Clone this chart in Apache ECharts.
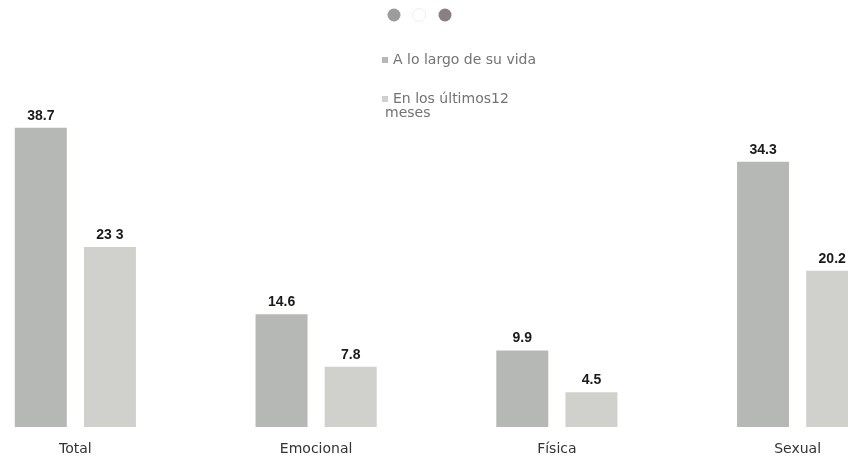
<!DOCTYPE html>
<html><head><meta charset="utf-8">
<script src="https://cdn.jsdelivr.net/npm/echarts@6/dist/echarts.min.js"></script>
<style>html,body{margin:0;padding:0;background:#fff;overflow:hidden;width:848px;height:460px}#c{position:absolute;left:-45px;top:0;width:963px;height:460px}</style>
</head><body><div id="c"></div>
<script>
var categories = ['Total', 'Emocional', 'Física', 'Sexual'];
var vidaValues = [38.7, 14.6, 9.9, 34.3];
var mesesValues = [23.3, 7.8, 4.5, 20.2];
var seriesNames = ['A lo largo de su vida', 'En los últimos12 meses'];
var labelTexts = ['38.7', '14.6', '9.9', '34.3'];
var labelTexts2 = ['23 3', '7.8', '4.5', '20.2'];

var OFF = 45;
var chart = echarts.init(document.getElementById('c'), null, {renderer: 'canvas'});
var labelStyle = {show: true, position: 'top', distance: 5, color: '#1a1a1a', fontWeight: 'bold', fontSize: 14, fontFamily: 'Liberation Sans, Arial, sans-serif'};
chart.setOption({
  backgroundColor: '#fff',
  animation: false,
  legend: {
    orient: 'vertical', left: 377 + OFF, top: 46, itemGap: 21,
    icon: 'rect', itemWidth: 6, itemHeight: 6,
    textStyle: {color: '#737373', fontSize: 14, fontFamily: 'DejaVu Sans, sans-serif', lineHeight: 18},
    formatter: function (n) { return n === seriesNames[1] ? 'En los últimos12' : n; },
    data: seriesNames
  },
  graphic: [
    {type: 'circle', shape: {cx: 394 + OFF, cy: 15, r: 6.5}, style: {fill: '#9c9c9c'}},
    {type: 'circle', shape: {cx: 419 + OFF, cy: 15, r: 6.5}, style: {fill: '#fff', stroke: '#efefef', lineWidth: 1}},
    {type: 'circle', shape: {cx: 445 + OFF, cy: 15, r: 6.5}, style: {fill: '#8a7f82'}},
    {type: 'text', left: 385 + OFF, top: 106, style: {text: 'meses', fill: '#737373', fontSize: 14, fontFamily: 'DejaVu Sans, sans-serif'}}
  ],
  grid: {left: 0, top: 40.5, right: 0, height: 386.5, containLabel: false},
  xAxis: {
    type: 'category',
    data: categories,
    axisLine: {show: false}, axisTick: {show: false},
    axisLabel: {color: '#333', fontSize: 14, margin: 15, fontFamily: 'DejaVu Sans, sans-serif'}
  },
  yAxis: {type: 'value', min: 0, max: 50, show: false, splitLine: {show: false}},
  series: [
    {name: seriesNames[0], type: 'bar', data: vidaValues, barWidth: 52, barGap: '33%',
     itemStyle: {color: '#b6b8b5'},
     label: Object.assign({}, labelStyle, {formatter: function (p) { return labelTexts[p.dataIndex]; }})},
    {name: seriesNames[1], type: 'bar', data: mesesValues, barWidth: 52,
     itemStyle: {color: '#d0d0cd'},
     label: Object.assign({}, labelStyle, {formatter: function (p) { return labelTexts2[p.dataIndex]; }})}
  ]
});
</script></body></html>
